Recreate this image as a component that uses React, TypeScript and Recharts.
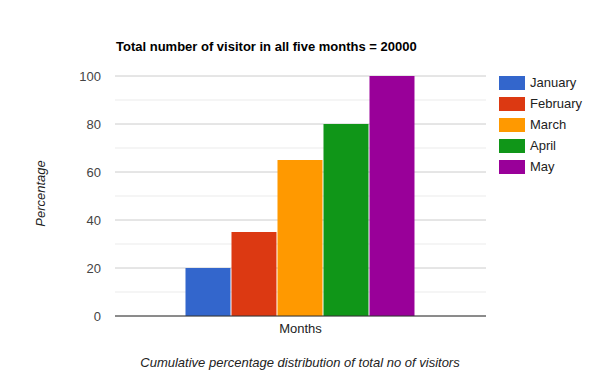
import React from 'react';
import { BarChart, Bar, XAxis, YAxis, CartesianGrid, ReferenceLine } from 'recharts';

// values (cumulative % of visitors)
const categories = ['Months'];
const months = ['January', 'February', 'March', 'April', 'May'];
const percentages = [20, 35, 65, 80, 100];
const colors = ['#3366cc', '#dc3912', '#ff9900', '#109618', '#990099'];
const yTicks = [0, 20, 40, 60, 80, 100];
const minorTicks = [10, 30, 50, 70, 90];

const data = categories.map(name => {
  const row: Record<string, string | number> = { name };
  months.forEach((m, i) => (row[m] = percentages[i]));
  return row;
});

const font = 'Arial, "Liberation Sans", sans-serif';

const App: React.FC = () => {
  return (
    <div style={{ position: 'absolute', left: 0, top: 0, width: 600, height: 390, background: '#fff', fontFamily: font }}>
      <div style={{ position: 'absolute', left: 116, top: 40, fontSize: 13, lineHeight: '13px', fontWeight: 'bold', color: '#000' }}>
        Total number of visitor in all five months = 20000
      </div>

      <BarChart
        width={600}
        height={390}
        data={data}
        margin={{ top: 76, right: 114, bottom: 0, left: 0 }}
        barCategoryGap="19%"
        barGap={1}
      >
        <CartesianGrid vertical={false} horizontalValues={minorTicks} stroke="#ebebeb" strokeDasharray="" />
        <CartesianGrid vertical={false} horizontalValues={yTicks} stroke="#cccccc" strokeDasharray="" />
        <XAxis
          dataKey="name"
          height={74}
          axisLine={false}
          tickLine={false}
          tickSize={0}
          tickMargin={8}
          tick={{ fill: '#222', fontSize: 13, fontFamily: font }}
        />
        <YAxis
          width={115}
          domain={[0, 100]}
          ticks={yTicks}
          axisLine={false}
          tickLine={false}
          tickSize={0}
          tickMargin={14}
          tick={{ fill: '#444', fontSize: 13, fontFamily: font }}
        />
        <ReferenceLine y={0} stroke="#333" />
        {months.map((m, i) => (
          <Bar key={m} dataKey={m} fill={colors[i]} isAnimationActive={false} />
        ))}
      </BarChart>

      {/* legend */}
      <div style={{ position: 'absolute', left: 499, top: 72, fontSize: 13, color: '#222' }}>
        {months.map((m, i) => (
          <div key={m} style={{ display: 'flex', alignItems: 'center', height: 21 }}>
            <span style={{ width: 26, height: 14, background: colors[i], marginRight: 5 }} />
            <span>{m}</span>
          </div>
        ))}
      </div>

      <div
        style={{
          position: 'absolute', left: -10, top: 186, width: 100, height: 15, lineHeight: '15px',
          textAlign: 'center', fontSize: 13, fontStyle: 'italic', color: '#222', transform: 'rotate(-90deg)',
        }}
      >
        Percentage
      </div>
      <div
        style={{
          position: 'absolute', left: 0, top: 356, width: 600, textAlign: 'center',
          fontSize: 13, lineHeight: '13px', fontStyle: 'italic', color: '#222',
        }}
      >
        Cumulative percentage distribution of total no of visitors
      </div>
    </div>
  );
};

export default App;
